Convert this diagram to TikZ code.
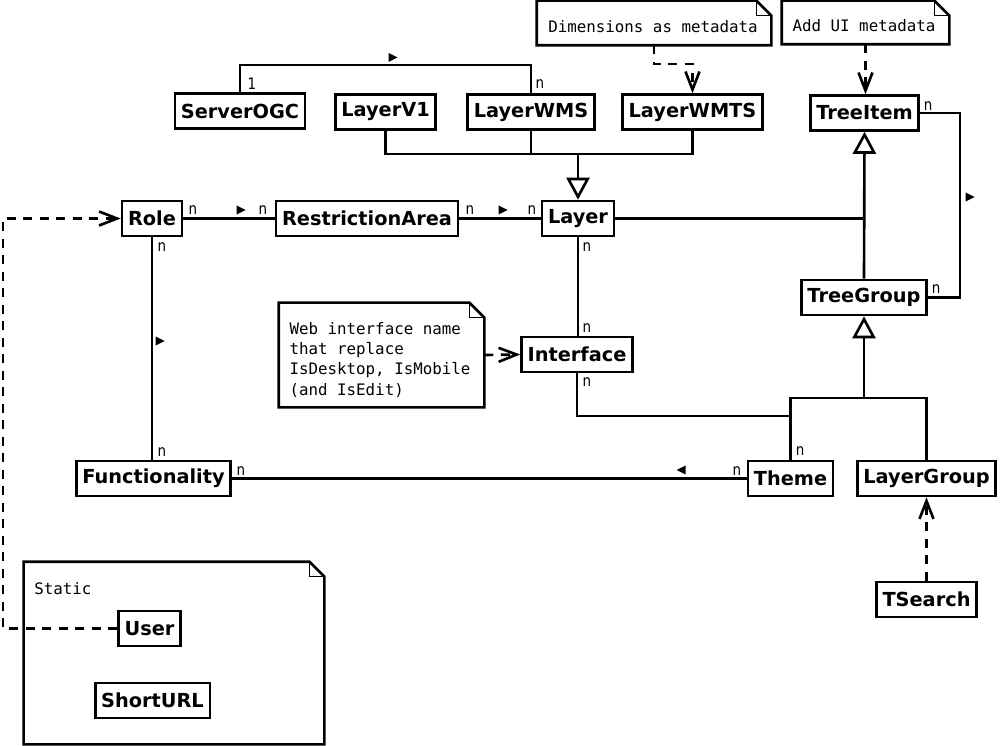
\documentclass[tikz,border=0pt]{standalone}
\usepackage{fontspec}
\usetikzlibrary{arrows.meta, calc}
\newfontfamily\classfont{DejaVu Sans}
\newfontfamily\notefont{DejaVu Sans Mono}
\newfontfamily\multfont[FakeStretch=0.85]{DejaVu Sans}
\tikzset{navr/.pic={\fill (-4.5,-4.5) -- (4.5,0) -- (-4.5,4.5) -- cycle;},
  navl/.pic={\fill (4.5,-4.5) -- (-4.5,0) -- (4.5,4.5) -- cycle;}}
% note outline with folded corner
\newcommand\dogear[1]{%
  \draw[line width=1.5pt] (#1.south west) -- (#1.north west) -- ([xshift=-3mm]#1.north east)
    -- ([yshift=-3mm]#1.north east) -- (#1.south east) -- cycle;
  \draw[line width=0.6pt] ([xshift=-3mm]#1.north east) |- ([yshift=-3mm]#1.north east);}

\begin{document}
\begin{tikzpicture}
    [x=0.2mm, y=-0.2mm, line width=1.5pt,
     cls/.style={draw, fill=white, font=\classfont\bfseries\fontsize{11}{13}\selectfont,
       minimum height=7mm, inner xsep=1.2mm, inner ysep=0pt},
     notebox/.style={inner sep=0pt},
     note/.style={font=\notefont\fontsize{9}{11.4}\selectfont, align=left, inner sep=0pt},
     mult/.style={font=\multfont\fontsize{9}{10}\selectfont, inner sep=0pt},
     inherit/.style={-{Triangle[open, length=4.4mm, width=4.6mm, fill=white]}},
     dep/.style={dash pattern=on 1.8mm off 1.5mm, -{Straight Barb[length=3.6mm, width=2.8mm]}}]
    \useasboundingbox (0,0) rectangle (1000,746);

    % notes
    \node[notebox, minimum width=46.4mm, minimum height=8.4mm] (dimnote) at (654,23) {};
    \dogear{dimnote}
    \node[note] (dimtext) at (653,27) {Dimensions as metadata};
    \node[notebox, minimum width=33mm, minimum height=8.2mm] (uinote) at (865.5,22.5) {};
    \dogear{uinote}
    \node[note] (uitext) at (864,26) {Add UI metadata};
    \node[notebox, minimum width=40.6mm, minimum height=20.4mm] (webnote) at (381.5,355) {};
    \dogear{webnote}
    \node[note] (webtext) at (380,360)
      {Web interface name\\that replace\\IsDesktop, IsMobile\\(and IsEdit)};
    \node[notebox, minimum width=59.6mm, minimum height=36mm] (staticpkg) at (174,653) {};
    \dogear{staticpkg}
    \node[note, anchor=west] (staticlbl) at (33,589) {Static};

    % classes
    \node[cls] (ServerOGC) at (240,111) {ServerOGC};
    \node[cls] (LayerV1) at (385.5,112) {LayerV1};
    \node[cls] (LayerWMS) at (531,112) {LayerWMS};
    \node[cls] (LayerWMTS) at (692.5,112) {LayerWMTS};
    \node[cls] (TreeItem) at (864.5,113) {TreeItem};
    \node[cls] (Role) at (152,218.5) {Role};
    \node[cls] (RestrictionArea) at (367,218.5) {RestrictionArea};
    \node[cls] (Layer) at (578,218.5) {Layer};
    \node[cls] (TreeGroup) at (864,297.5) {TreeGroup};
    \node[cls] (Interface) at (577,354.5) {Interface};
    \node[cls] (Functionality) at (153.5,478.5) {Functionality};
    \node[cls] (Theme) at (790.5,478.5) {Theme};
    \node[cls] (LayerGroup) at (926.5,478.5) {LayerGroup};
    \node[cls] (TSearch) at (926.5,599.5) {TSearch};
    \node[cls] (User) at (149.5,628.5) {User};
    \node[cls] (ShortURL) at (152.5,700.5) {ShortURL};

    % associations
    \draw (ServerOGC.north) |- (LayerWMS.north |- 0,65) -- (LayerWMS.north);
    \draw (Role) -- (RestrictionArea);
    \draw (RestrictionArea) -- (Layer);
    \draw (Layer.south) -- (Layer.south |- Interface.north);
    \draw (Role.south) -- (Role.south |- Functionality.north);
    \draw (Functionality.east) -- (Theme.west);
    \draw (Interface.south) |- (Theme.north |- 0,416);
    \draw (TreeItem.east) -- (TreeItem.east -| 960,0) |- (TreeGroup.east);

    % inheritance
    \coordinate (lbus) at (578,154);
    \draw (LayerV1.south) |- (LayerWMTS.south |- lbus) -- (LayerWMTS.south);
    \draw (LayerWMS.south) -- (LayerWMS.south |- lbus);
    \draw[inherit] (lbus) -- (Layer.north);
    \draw (Layer.east) -- (TreeItem.south |- Layer.east);
    \draw[inherit] (TreeGroup.north) -- (TreeItem.south);
    \coordinate (gbus) at (864,398);
    \draw (Theme.north) |- (LayerGroup.north |- gbus) -- (LayerGroup.north);
    \draw[inherit] (gbus) -- (TreeGroup.south);

    % dependencies
    \draw[dep] (dimnote.south) |- (LayerWMTS.north |- 0,64) -- (LayerWMTS.north);
    \draw[dep] (uinote.south) -- (uinote.south |- TreeItem.north);
    \draw[dep] (webnote.east) -- (Interface.west);
    \draw[dep] (TSearch.north) -- (LayerGroup.south);
    \draw[dep] (User.west) -- (User.west -| 3,0) |- (Role.west);

    % multiplicities
    \foreach \nm/\pos/\txt in {m1/{252,84}/1, m2/{540,84}/n, m3/{193,210}/n, m4/{263,210}/n,
        m5/{470,210}/n, m6/{532,210}/n, m7/{162,247}/n, m8/{162,452}/n, m9/{241,471}/n,
        m10/{587,247}/n, m11/{587,328}/n, m12/{587,382}/n, m13/{800,451}/n,
        m14/{737,471}/n, m15/{928,106}/n, m16/{936,289}/n}
      \node[mult] (\nm) at (\pos) {\txt};

    % reading direction
    \pic at (393,57.5) {navr};
    \pic at (241,210) {navr};
    \pic at (503,210) {navr};
    \pic at (160,341) {navr};
    \pic at (970,197) {navr};
    \pic at (681,470) {navl};
  \end{tikzpicture}
\end{document}
